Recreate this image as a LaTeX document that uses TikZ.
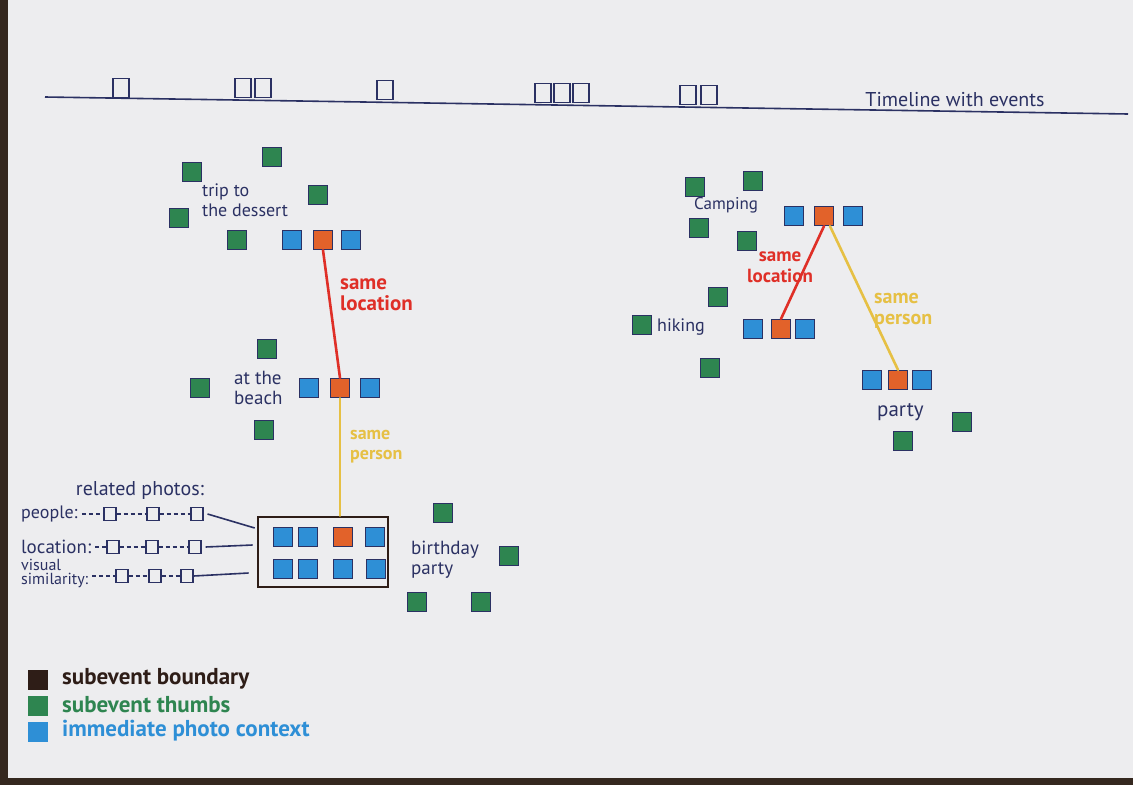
\documentclass[tikz,border=0pt]{standalone}
\usepackage{fontspec}
\setmainfont{PT Sans}
\usetikzlibrary{positioning}
\definecolor{Paper}{HTML}{EDEDEF}
\definecolor{Desk}{HTML}{35281F}
\definecolor{Ink}{HTML}{2B3163}
\definecolor{ThumbGreen}{HTML}{2E8550}
\definecolor{CtxBlue}{HTML}{2E8FD6}
\definecolor{PhotoOrange}{HTML}{E2622A}
\definecolor{LocRed}{HTML}{DF2F27}
\definecolor{PersonYellow}{HTML}{E6C044}
\definecolor{BoundBrown}{HTML}{2E1D17}

\begin{document}
\begin{tikzpicture}[x=1pt, y=-1pt,
    thumb/.style={draw=Ink, line width=1.3pt, fill=ThumbGreen, minimum size=19pt, inner sep=0pt},
    ctxthumb/.style={thumb, fill=CtxBlue},
    curthumb/.style={thumb, fill=PhotoOrange},
    slot/.style={draw=Ink, line width=1.2pt, minimum width=16pt, minimum height=19pt, inner sep=0pt},
    mini/.style={draw=Ink, line width=1.1pt, minimum width=12pt, minimum height=13pt, inner sep=0pt},
    hand/.style={text=Ink, font=\fontsize{19}{20}\selectfont, align=left, inner sep=0pt},
    tag/.style={font=\bfseries\fontsize{20}{21}\selectfont, align=left, inner sep=0pt},
    link/.style={line width=2.6pt, line cap=round},
    relation/.style={Ink, line width=1.2pt, dash pattern=on 4pt off 3pt}]
    \useasboundingbox (0,0) rectangle (1133,785);
    % paper on the desk
    \fill[Desk] (0,0) rectangle (1133,785);
    \fill[Paper] (8,0) rectangle (1133,778);

    % Timeline
    \coordinate (tlStart) at (45,97);
    \coordinate (tlEnd) at (1128,114);
    \draw[Ink, line width=1.6pt] (tlStart) -- (tlEnd);
    \node[slot] (ev1) at (121,88) {};
    \node[slot] (ev2a) at (243,88) {}; \node[slot] (ev2b) at (263,88) {};
    \node[slot] (ev3) at (385,90) {};
    \node[slot] (ev4a) at (543,93) {}; \node[slot] (ev4b) at (562,93) {}; \node[slot] (ev4c) at (581,93) {};
    \node[slot] (ev5a) at (688,95) {}; \node[slot] (ev5b) at (709,95) {};
    \node[hand, font=\fontsize{20}{20}\selectfont] (tlLabel) at (955,100) {Timeline with events};

    % trip to the dessert
    \node[thumb] (dG1) at (192,172) {};
    \node[thumb] (dG2) at (272,157) {};
    \node[thumb] (dG3) at (318,195) {};
    \node[thumb] (dG4) at (179,218) {};
    \node[thumb] (dG5) at (237,240) {};
    \node[ctxthumb] (dB1) at (292,240) {};
    \node[curthumb] (dO) at (323,240) {};
    \node[ctxthumb] (dB2) at (351,240) {};
    \node[hand, anchor=west, font=\fontsize{18}{20}\selectfont] (dLabel) at (202,200) {trip to\\the dessert};

    % at the beach
    \node[thumb] (bG1) at (267,349) {};
    \node[thumb] (bG2) at (200,388) {};
    \node[thumb] (bG3) at (264,430) {};
    \node[ctxthumb] (bB1) at (309,388) {};
    \node[curthumb] (bO) at (340,388) {};
    \node[ctxthumb] (bB2) at (370,388) {};
    \node[hand, anchor=west] (bLabel) at (234,388) {at the\\beach};

    \draw[link, LocRed] (dO.south) -- (bO.north);
    \node[tag, text=LocRed, anchor=west, font=\bfseries\fontsize{21}{21}\selectfont] (locA) at (340,295) {same\\location};

    % birthday party with photo context
    \node[draw=BoundBrown, line width=2.6pt, minimum width=130pt, minimum height=70pt] (ctx) at (323,552) {};
    \node[ctxthumb] (pB1) at (283,537) {};
    \node[ctxthumb] (pB2) at (308,537) {};
    \node[curthumb] (pO) at (343,537) {};
    \node[ctxthumb] (pB3) at (375,537) {};
    \node[ctxthumb] (pB4) at (283,569) {};
    \node[ctxthumb] (pB5) at (308,569) {};
    \node[ctxthumb] (pB6) at (343,569) {};
    \node[ctxthumb] (pB7) at (376,569) {};
    \node[thumb] (pG1) at (443,513) {};
    \node[thumb] (pG2) at (509,556) {};
    \node[thumb] (pG3) at (417,602) {};
    \node[thumb] (pG4) at (481,602) {};
    \node[hand, anchor=west] (pLabel) at (411,560) {birthday\\party};

    \draw[link, PersonYellow] (bO.south) -- (bO.south |- ctx.north);
    \node[tag, text=PersonYellow, anchor=west, font=\bfseries\fontsize{18}{20}\selectfont] (perA) at (350,447) {same\\person};

    % related photos
    \node[hand, font=\fontsize{20}{20}\selectfont] (relLabel) at (140,490) {related photos:};
    \node[hand, anchor=west, font=\fontsize{18}{20}\selectfont] (relPeople) at (21,514) {people:};
    \node[mini] (ppl1) at (110,514) {};
    \node[mini] (ppl2) at (153,514) {};
    \node[mini] (ppl3) at (197,514) {};
    \node[hand, anchor=west, font=\fontsize{19}{20}\selectfont] (relLoc) at (21,547) {location:};
    \node[mini] (loc1) at (113,547) {};
    \node[mini] (loc2) at (152,547) {};
    \node[mini] (loc3) at (195,547) {};
    \node[hand, anchor=west, font=\fontsize{16}{14}\selectfont] (relVis) at (21,573) {visual\\similarity:};
    \node[mini] (vis1) at (122,576) {};
    \node[mini] (vis2) at (155,576) {};
    \node[mini] (vis3) at (187,576) {};
    \draw[relation] ([xshift=4pt]relPeople.east) -- (ppl1) -- (ppl2) -- (ppl3);
    \draw[relation] ([xshift=4pt]relLoc.east) -- (loc1) -- (loc2) -- (loc3);
    \draw[relation] ([xshift=4pt]vis1.west -| relVis.east) -- (vis1) -- (vis2) -- (vis3);
    \draw[Ink, line width=1.6pt] ([xshift=4pt]ppl3.east) -- ([xshift=-2pt, yshift=24pt]ctx.west);
    \draw[Ink, line width=1.6pt] ([xshift=4pt]loc3.east) -- ([xshift=-4pt, yshift=7pt]ctx.west);
    \draw[Ink, line width=1.6pt] (vis3.east) -- ([xshift=-8pt, yshift=-21pt]ctx.west);

    % Camping
    \node[thumb] (cG1) at (695,187) {};
    \node[thumb] (cG2) at (753,181) {};
    \node[thumb] (cG3) at (699,228) {};
    \node[thumb] (cG4) at (747,241) {};
    \node[ctxthumb] (cB1) at (794,216) {};
    \node[curthumb] (cO) at (824,216) {};
    \node[ctxthumb] (cB2) at (853,216) {};
    \node[hand, anchor=west, font=\fontsize{17}{20}\selectfont] (cLabel) at (694,205) {Camping};

    % hiking
    \node[thumb] (hG1) at (718,297) {};
    \node[thumb] (hG2) at (642,325) {};
    \node[thumb] (hG3) at (710,368) {};
    \node[ctxthumb] (hB1) at (753,329) {};
    \node[curthumb] (hO) at (781,329) {};
    \node[ctxthumb] (hB2) at (805,329) {};
    \node[hand, anchor=west, font=\fontsize{18}{20}\selectfont] (hLabel) at (657,327) {hiking};

    % party
    \node[ctxthumb] (yB1) at (872,380) {};
    \node[curthumb] (yO) at (898,380) {};
    \node[ctxthumb] (yB2) at (922,380) {};
    \node[thumb] (yG1) at (903,441) {};
    \node[thumb] (yG2) at (962,422) {};
    \node[hand, anchor=west, font=\fontsize{21}{20}\selectfont] (yLabel) at (877,412) {party};

    \draw[link, LocRed] (cO.south) -- (hO.north);
    \draw[link, PersonYellow] ([xshift=6pt]cO.south) -- (yO.north);
    \node[tag, text=LocRed, align=center, font=\bfseries\fontsize{19}{21}\selectfont] (locB) at (780,267) {same\\location};
    \node[tag, text=PersonYellow, anchor=west] (perB) at (874,311) {same\\person};

    % Legend
    \node[thumb, draw=BoundBrown, fill=BoundBrown] (keyBound) at (38,680) {};
    \node[thumb, draw=ThumbGreen] (keyThumb) at (38,706) {};
    \node[thumb, draw=CtxBlue, fill=CtxBlue] (keyCtx) at (38,732) {};
    \node[tag, text=BoundBrown, anchor=west, font=\bfseries\fontsize{23}{20}\selectfont] (keyBoundTxt) at (62,679) {subevent boundary};
    \node[tag, text=ThumbGreen, anchor=west, font=\bfseries\fontsize{23}{20}\selectfont] (keyThumbTxt) at (62,705) {subevent thumbs};
    \node[tag, text=CtxBlue, anchor=west, font=\bfseries\fontsize{23}{20}\selectfont] (keyCtxTxt) at (62,731) {immediate photo context};
\end{tikzpicture}
\end{document}
